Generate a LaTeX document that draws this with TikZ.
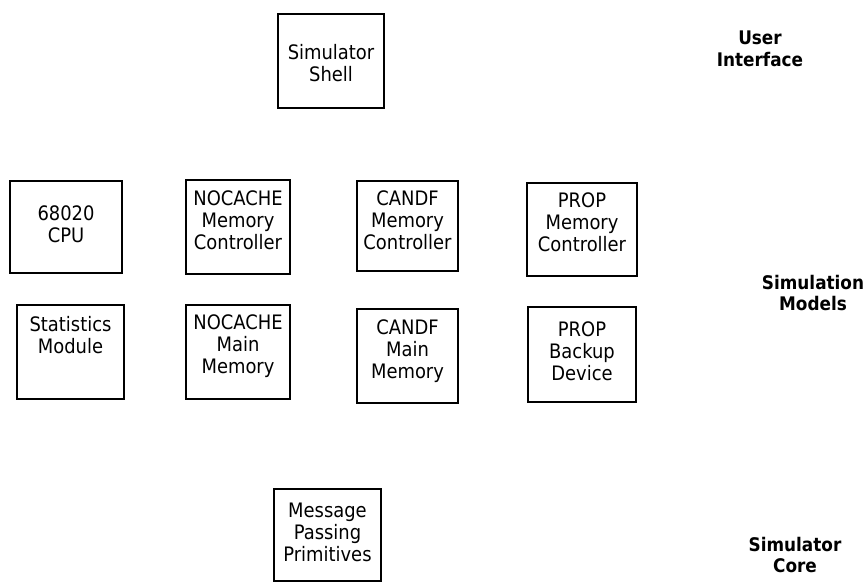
\documentclass[tikz,border=0pt]{standalone}
\usepackage{fontspec}
\setmainfont{DejaVu Sans Condensed}
\begin{document}
\begin{tikzpicture}[x=0.03cm,y=-0.03cm,
  box/.style={draw,line width=1.7pt,inner sep=0pt,minimum width=#1,minimum height=2.82cm},
  box/.default=3.12cm,
  txt/.style={align=center,inner sep=0pt,font=\fontsize{17}{18.7}\selectfont},
  layer/.style={align=center,inner sep=0pt,font=\fontsize{16}{18.7}\selectfont\bfseries}]
\useasboundingbox (0,0) rectangle (867,585);
% user interface
\node[box=3.18cm] (shell) at (331,61) {};
\node[txt] (shelltxt) at (331,63) {Simulator\\Shell};
% simulation models, first row
\node[box=3.36cm,minimum height=2.76cm] (cpu) at (66,227) {};
\node[txt] (cputxt) at (66,224) {68020\\CPU};
\node[box] (nocmc) at (238,227) {};
\node[txt] (nocmctxt) at (238,220) {NOCACHE\\Memory\\Controller};
\node[box=3.03cm,minimum height=2.7cm] (candmc) at (407.5,226) {};
\node[txt] (candmctxt) at (407.5,220) {CANDF\\Memory\\Controller};
\node[box=3.3cm,minimum height=2.79cm] (propmc) at (582,229.5) {};
\node[txt] (propmctxt) at (582,222) {PROP\\Memory\\Controller};
% simulation models, second row
\node[box=3.21cm] (stats) at (70.5,352) {};
\node[txt] (statstxt) at (70.5,335) {Statistics\\Module};
\node[box] (nocmm) at (238,352) {};
\node[txt] (nocmmtxt) at (238,346) {NOCACHE\\Main\\Memory};
\node[box=3.03cm] (candmm) at (407.5,356) {};
\node[txt] (candmmtxt) at (407.5,351) {CANDF\\Main\\Memory};
\node[box=3.24cm,minimum height=2.85cm] (propmm) at (582,354.5) {};
\node[txt] (propmmtxt) at (582,351) {PROP\\Backup\\Device};
% simulator core
\node[box=3.21cm,minimum height=2.76cm] (msg) at (327.5,535) {};
\node[txt] (msgtxt) at (327.5,532) {Message\\Passing\\Primitives};
% layer names
\node[layer] (ui) at (760,49) {User\\Interface};
\node[layer] (models) at (813,293) {Simulation\\Models};
\node[layer] (core) at (795,555) {Simulator\\Core};
\end{tikzpicture}
\end{document}
